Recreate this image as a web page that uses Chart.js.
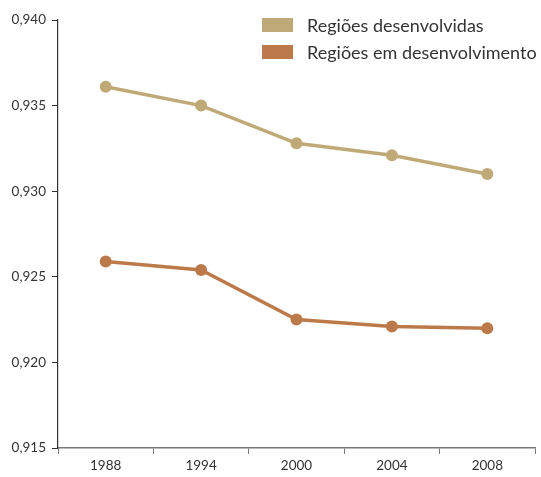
<!DOCTYPE html>
<html lang="pt">
<head>
    <meta charset="UTF-8">
    <title>Regiões</title>
    <script src="https://cdn.jsdelivr.net/npm/chart.js"></script>
    <style>
        body { margin: 0; background: #fff; }
        #wrap { position: relative; width: 541px; height: 477px; }
        #legend { position: absolute; left: 262px; top: 11px; font-family: Lato, "Open Sans", sans-serif; font-size: 18px; color: #333; }
        #legend div { display: flex; align-items: center; height: 27px; }
        #legend span.box { display: inline-block; width: 31px; height: 14px; margin-right: 14px; }
    </style>
</head>
<body>
    <div id="wrap">
        <canvas id="chart" width="541" height="477"></canvas>
        <div id="legend"></div>
    </div>

    <script>
        const years = ["1988", "1994", "2000", "2004", "2008"];
        const developed = [0.9361, 0.9350, 0.9328, 0.9321, 0.9310];
        const developing = [0.9259, 0.9254, 0.9225, 0.9221, 0.9220];
        const seriesNames = ["Regiões desenvolvidas", "Regiões em desenvolvimento"];
        const colors = ["#bfa977", "#bc7a4b"];

        // legend in html, top right
        const legend = document.getElementById('legend');
        seriesNames.forEach((name, i) => {
            legend.innerHTML += `<div><span class="box" style="background:${colors[i]}"></span>${name}</div>`;
        });

        const axisFont = { family: 'Lato, "Open Sans", sans-serif', size: 13.5 };

        new Chart(document.getElementById('chart').getContext('2d'), {
            type: 'line',
            data: {
                labels: years,
                datasets: [
                    {
                        label: seriesNames[0],
                        data: developed,
                        borderColor: colors[0],
                        backgroundColor: colors[0],
                        borderWidth: 3.5,
                        pointRadius: 6,
                        pointBorderWidth: 0
                    },
                    {
                        label: seriesNames[1],
                        data: developing,
                        borderColor: colors[1],
                        backgroundColor: colors[1],
                        borderWidth: 3.5,
                        pointRadius: 6,
                        pointBorderWidth: 0
                    }
                ]
            },
            options: {
                responsive: false,
                animation: false,
                layout: { padding: { top: 20, right: 6, left: 0, bottom: 0 } },
                plugins: {
                    legend: { display: false },
                    tooltip: { enabled: false }
                },
                scales: {
                    x: {
                        offset: true,
                        grid: { offset: true, drawOnChartArea: false, color: '#777', tickLength: 6 },
                        border: { color: '#777', width: 1.5 },
                        ticks: { color: '#333', font: axisFont, padding: 4 },
                        afterFit: s => { s.height = 29; }
                    },
                    y: {
                        min: 0.915,
                        max: 0.940,
                        grid: { drawOnChartArea: false, color: '#333', tickLength: 6 },
                        border: { color: '#333', width: 1.2 },
                        ticks: {
                            stepSize: 0.005,
                            color: '#333',
                            font: axisFont,
                            padding: 6,
                            callback: v => v.toFixed(3).replace('.', ',')
                        },
                        afterFit: s => { s.width = 58; }
                    }
                }
            }
        });
    </script>
</body>
</html>
